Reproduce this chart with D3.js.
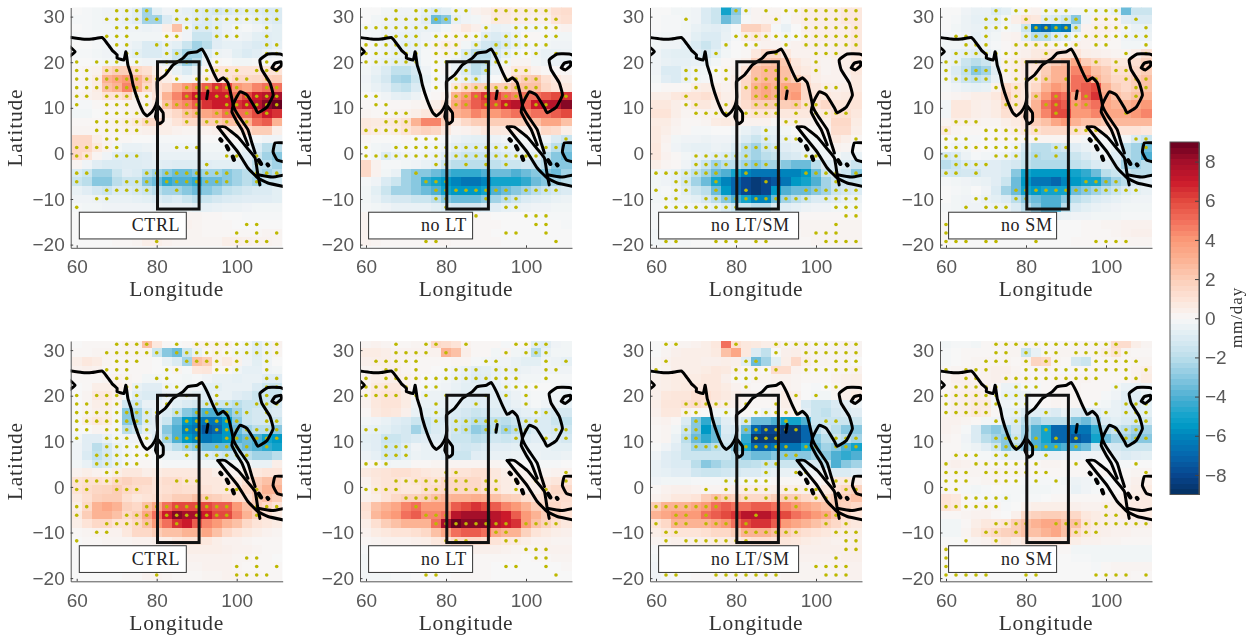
<!DOCTYPE html>
<html>
<head>
<meta charset="utf-8">
<script src="https://cdnjs.cloudflare.com/ajax/libs/d3/7.8.5/d3.min.js"></script>
<style>
  html, body { margin: 0; padding: 0; background: #fff; }
  svg { display: block; filter: blur(0.35px); }
</style>
</head>
<body>
<svg id="chart" width="1253" height="637"></svg>
<script>
// grid of the model output
const lons = d3.range(21).map((i) => 60 + i * 2.5)
const lats = d3.range(28).map((i) => 31.3 - i * 1.875)

const lonTicks = [60, 80, 100]
const latTicks = [30, 20, 10, 0, -10, -20]
const barTicks = [8, 6, 4, 2, 0, -2, -4, -6, -8]

const colorStops = [-9, -8, -7, -6, -5.5, -5, -4, -3, -2, -1, 0, 1, 2, 3, 4, 5, 6, 7, 8, 9]
const colorValues = ['#053061', '#08468f', '#0666ad', '#0084bc', '#0099c5', '#12a3cb', '#4fb0d3', '#88c8e0',
  '#bbdeeb', '#dbebf3', '#f7f7f7', '#fde4d8', '#fcceb8', '#fcb394', '#fb9a78', '#f2705c', '#e34a3f', '#cb1a2b', '#a50f2a', '#67001f']

// precipitation anomalies, one row per latitude, north to south
const ctrlTop = [
  [0,-.1,-.2,-.3,-.3,-.4,-.8,-2.5,-.7,-.3,-.4,-.6,-.8,-1,-1.2,-1,-.8,-.7,-.8,-1,-1],
  [-.1,-.1,-.2,-.3,-.3,-.5,-.8,-2.5,-2.5,-1,-.5,-.5,-.8,-1,-.7,-.5,-.5,-.4,-.6,-.8,-1],
  [0,-.1,-.2,-.2,-.3,-.3,-.3,-.4,-.3,.5,2.5,-.3,-1,-1,-.7,-.4,-.2,-.1,-.3,-.5,-.7],
  [-.1,-.1,-.1,-.2,-.2,-.2,-.2,-.2,-.2,.1,.2,-.3,-1.5,-1.5,-.8,-.4,-.3,-.4,-.7,-.8,-.7],
  [0,0,-.1,-.2,-.2,-.3,-.5,-1,-1,-.5,-.7,-1.5,-2.5,-2,-.8,-.6,-.6,-.8,-1,-.9,-.6],
  [-.1,-.1,-.2,-.3,-.3,-.4,-.7,-1,-1,-.6,-1.5,-2.5,-2.5,-1,-.4,-.3,-.7,-1,-.8,-.5,-.3],
  [0,0,-.1,-.2,-.2,-.1,-.2,-.3,-.3,-.6,-1.5,-2.7,-2,-.4,.1,0,-.2,-.2,-.1,-.1,0],
  [.1,.2,.3,1.5,2,2,1.5,1.2,.5,.2,-.5,-1,-.5,.2,1,1,1,1,1,1,1],
  [.1,.2,.6,3,3.5,4,3,2,1,.5,.2,-.2,.2,.6,1,1,1.5,1.5,1.6,1.8,2],
  [.1,.2,.6,2.5,3,4.5,3,1.5,1,1.5,3,4,4.5,5.5,6.5,6,4,3.5,4.5,5,5],
  [.2,.3,.5,1,1,1.5,.5,.3,1,3,4.5,6,7,7,7,7,5,6,7,7.5,8],
  [-.1,-.1,.1,.2,.2,.3,.3,.3,.6,2.5,4,4.5,5.5,6.5,7,7,6.5,7,7.5,8.5,9],
  [-.2,-.2,0,.1,.1,.2,.3,.4,.5,1,1.5,2.5,3,3.5,4,5,5,5,6,7,6.5],
  [.1,.1,.1,.2,.3,.5,.8,1.5,1.5,.5,1,1.5,1.5,2,2,2.5,2.5,3,5,5.5,3],
  [.2,.2,.2,.2,.2,.3,.3,.4,.5,.5,.3,.2,.2,.3,.4,.7,.7,1.5,2,2,.5],
  [1.5,1.5,.5,.2,.1,.1,0,0,-.1,-.1,-.1,-.1,-.1,0,0,.1,.1,0,-.1,-.3,-.3],
  [1.5,1.5,.8,.3,-.2,-.5,-.5,-.4,-.3,-.3,-.3,-.3,-.3,-.2,-.2,-.2,-.2,-.5,-1,-2,-2],
  [1.5,1,.2,-.3,-.8,-.9,-.9,-.8,-.5,-.5,-.5,-.5,-.5,-.4,-.4,-.4,-.5,-.8,-1.5,-2.5,-3],
  [.2,-.3,-.8,-1,-1,-.9,-.9,-.8,-.7,-.8,-.9,-.9,-.9,-.8,-.7,-.7,-.7,-1,-2,-2,-2.5],
  [-1,-1.5,-2.5,-2.5,-1.5,-.8,-1,-2,-2.5,-3,-3.5,-3.5,-3,-2.5,-2.5,-3,-2.5,-2,-2,-2.5,-2],
  [-1.5,-2,-3,-3,-2,-1.5,-1.5,-3,-3.5,-4.5,-4,-4,-4.5,-3.5,-3.5,-3,-2.5,-2,-2.5,-1.5,-1.5],
  [-.5,-.8,-1.2,-1.5,-1,-1,-1.2,-1.5,-2,-2.5,-2.5,-3,-3.5,-3,-2.5,-1.8,-1.5,-1.2,-1,-1,-.7],
  [-.3,-.3,-.4,-.5,-.5,-.5,-.6,-.7,-.9,-1.2,-1,-1.5,-2,-1.5,-1.2,-1,-.9,-.8,-.8,-.8,-.7],
  [-.1,-.2,-.2,-.3,-.3,-.3,-.3,-.3,-.4,-.5,-.5,-.5,-.7,-.6,-.5,-.4,-.4,-.3,-.2,-.2,-.2],
  [0,0,0,0,-.1,-.1,-.1,0,0,.1,.2,.2,.2,.1,.1,0,0,-.1,-.1,-.1,-.1],
  [0,0,0,0,0,.1,.1,.1,.2,.3,.3,.3,.2,.1,.1,.1,0,0,0,0,0],
  [0,0,0,0,0,.1,.1,.2,.3,.3,.2,.2,.2,.1,.1,.1,.1,.1,.1,.2,.2],
  [0,0,0,0,.1,.1,.2,.5,.5,.3,.2,.2,.2,.2,.2,.5,.5,.4,.3,.3,.2],
]
const noLtTop = [
  [0,0,-.2,-.3,-.3,-.3,-.6,-1,-.7,-.3,-.3,.3,.5,.8,.8,.6,.6,.5,.6,1.2,1.3],
  [0,-.2,-.3,-.4,-.4,-.4,-.8,-3.5,-3,-.6,-.3,-.2,.2,.7,.7,.5,.4,.3,.3,1,1.2],
  [-.2,-.2,-.4,-.4,-.4,-.5,-.5,-.5,-.2,.3,.8,.4,-.3,-.5,-.4,-.3,-.2,-.2,-.1,.2,.3],
  [-.1,-.2,-.4,-.5,-.5,-.5,-.3,-.2,.1,.2,.2,-.1,-.8,-1,-.8,-.4,.1,.1,-.1,-.2,-.2],
  [.1,-.1,-.3,-.5,-.7,-.5,-.2,.2,.5,.3,-.2,-.7,-1.3,-1.5,-1,-.5,-.2,-.1,-.2,-.3,-.3],
  [-.1,-.2,-.3,-.5,-.6,-.5,-.1,.1,.2,-.2,-1,-2,-2,-1.2,-.6,-.2,0,-.3,-.5,-.5,-.4],
  [-.1,-.3,-.5,-.7,-.8,-.6,-.1,0,-.1,-.5,-1,-2,-1.8,-.8,-.2,.2,.2,-.2,-.4,-.5,-.5],
  [-.2,-.5,-1,-1.8,-1.8,-1.2,-.3,0,.1,-.5,-1,-2,-1.5,-.5,.3,.8,.8,.3,.1,.1,.1],
  [-.3,-.7,-1.2,-2.3,-2.5,-1.5,-.5,-.1,-.1,-.3,-.5,-1,-.6,0,.5,1.5,2,2.2,1.2,.8,.5],
  [-.2,-.5,-.8,-1.5,-1.8,-1,-.3,0,0,.8,1.5,2,2,2,2,2.5,2.5,2.5,1.5,1,.8],
  [0,-.1,-.3,-.6,-.7,-.4,0,.1,.3,3,4,5.5,6.5,6,5,4.5,5,5,5.5,6,6.5],
  [.1,.1,.1,.1,.1,.2,.3,.5,1,3.5,4.5,5.5,6,6,7,7.5,5.5,7,7.5,7.5,8.5],
  [.2,.1,.1,.2,.3,.5,.8,1,1.5,3,3.5,4.5,4,4,4.5,5,4.5,5,5,5.5,6],
  [.8,.7,.7,.8,1.2,3,4.5,4.5,2,.8,1.5,2,2,2,2,2,2,2.5,3.5,3.5,2.5],
  [.8,.6,.4,.6,1,1.5,1.8,1.6,.8,.2,.3,.5,.8,.8,.7,.6,.4,.8,1.5,1.3,.5],
  [.1,0,0,0,.1,0,0,0,-.1,-.4,-.6,-.7,-.7,-.4,-.2,-.2,-.1,0,-.3,-1,-1.5],
  [0,-.2,-.3,-.2,-.1,-.1,-.2,-.2,-.4,-.8,-1,-1,-1,-.8,-.6,-.5,-.3,-.3,-1,-2,-3],
  [0,-.2,-1,-.5,-.3,-.2,-.3,-.4,-.8,-1.2,-1.5,-1.5,-1.5,-1.2,-1,-.8,-.6,-.7,-2,-3,-3.5],
  [1.5,.3,-.1,-.1,-.2,-.3,-.5,-.7,-1.5,-2,-2,-2,-2,-1.8,-1.5,-1.5,-1.2,-1.5,-2,-3,-3],
  [1.5,.3,-.2,-.5,-2.5,-3,-3,-3.5,-4,-4.5,-4.5,-4.5,-4,-3.5,-3.5,-4,-3.5,-3,-3,-3.5,-2.5],
  [-.1,-.3,-1,-1.5,-2.5,-3,-4.5,-5,-5.5,-6,-6.5,-6.5,-6,-5,-5,-5,-4.5,-3.5,-3,-2.5,-2],
  [-.2,-.7,-1.5,-2.5,-2.5,-3,-3.5,-4,-5,-5.5,-5.5,-5.5,-5,-4,-3.5,-3,-2.5,-2,-1.5,-1.2,-1],
  [-.2,-.5,-1,-1.2,-1.2,-1.5,-1.5,-2,-3,-3.5,-3.5,-3.5,-3,-2.5,-2,-1.5,-1,-.8,-.7,-.5,-.4],
  [-.1,-.2,-.3,-.5,-.5,-.5,-.5,-.7,-1,-1.2,-1.2,-1.2,-1,-.8,-.6,-.5,-.4,-.3,-.3,-.2,-.2],
  [.2,0,0,-.1,-.1,-.1,-.1,-.1,-.1,0,.1,.1,.1,0,0,0,0,-.1,-.1,-.1,-.1],
  [.3,.1,0,0,0,0,0,.1,.1,.1,.1,.1,.1,.1,0,0,0,0,0,0,-.1],
  [.3,.1,.1,0,0,0,.1,.1,.1,.1,.1,.1,.1,0,0,0,0,0,0,0,0],
  [.3,.2,.1,.1,.1,.1,.1,.2,.2,.1,.1,.1,.1,.1,0,0,0,0,0,0,0],
]
const noLtSmTop = [
  [0,0,-.2,-.2,-.3,-1,-1.5,-5,-3,-.3,.2,.2,.2,.1,.2,.5,.5,.5,.5,.8,.8],
  [0,-.1,-.1,-.2,-.3,-1,-1.5,-3.5,-2.5,-.1,.2,.3,.3,-.1,.3,.5,.5,.5,.5,.8,.8],
  [0,-.1,-.1,-.2,-.5,-.7,-.8,-.6,-.1,1.8,1.8,1.2,-.1,-.5,0,.4,.5,.5,.5,.5,.8],
  [-.1,-.2,-.2,-.3,-.7,-1,-1,-.5,-.1,.5,.8,.4,.1,-.2,0,.3,.5,.5,.5,.5,.8],
  [-.2,-.3,-.3,-.6,-1,-1.5,-1,-.3,0,.1,.2,.3,.3,.2,.3,.4,.4,.3,.4,.5,.8],
  [-.3,-.6,-.7,-.7,-.8,-1.2,-.7,-.2,0,.1,.8,1.5,1.5,.8,.3,.3,.3,.3,.4,.5,.8],
  [-.3,-.5,-.6,-.6,-.5,-.5,-.2,.1,.2,.5,1.8,2.2,2.5,2.2,.8,.5,.3,.2,.3,.5,.8],
  [-.3,-1,-1,-.5,-.3,-.2,0,.2,.3,1,2.5,2.8,2.8,2.5,1,.7,.5,.2,.3,.5,.8],
  [-.2,-.8,-1,-.5,-.2,-.1,.1,.2,.5,1.5,2.5,2.8,2.8,2.5,2,1,.5,.3,.3,.3,.7],
  [0,.1,.1,.1,.5,.6,.5,.3,.5,1.5,3,3.5,3,3.5,3.5,1.5,.8,.5,.4,.5,.7],
  [.5,.5,.8,1,1,1.2,1,.5,.5,1.5,3,3.5,3,3.5,4,1.5,1,.8,.6,.7,.9],
  [.8,.8,.5,.3,.8,.8,.5,.5,.8,1.3,2,2,2,2,2.2,1.2,1.2,1.5,1,1,1],
  [1,1,.5,.2,.2,.3,.3,.4,.5,.8,1,1,.8,.8,.8,.8,.7,.8,1.2,1.2,.8],
  [.6,.6,.3,.1,.1,.2,.6,.7,.6,.3,.3,.3,.1,.4,.5,.4,.3,.5,1.5,1.5,.6],
  [.7,.5,.2,.1,-.1,-.1,0,0,-.2,-.5,-.8,-.5,-.5,-.2,0,.1,.1,.3,1.3,1.3,.5],
  [.7,.3,-.2,-.3,-.3,-.4,-.3,-.3,-.5,-1,-1.5,-1,-.8,-.5,-.3,-.2,-.2,0,.8,.5,.2],
  [.8,.2,-.3,-.5,-.6,-.6,-.4,-.5,-1,-2,-2.5,-1.5,-1.2,-.8,-.6,-.4,-.3,-.2,.3,.2,0],
  [.8,.3,.1,-.2,-.4,-.6,-.8,-1,-1.5,-2,-2.5,-2,-1.7,-1.2,-1,-.6,-.4,-.3,-.2,-.5,-.5],
  [.5,.2,.1,-.3,-.8,-1.5,-2.5,-2,-2,-2.5,-3,-2.5,-2.5,-3,-3.5,-3.5,-2,-1,-.8,-1,-1.5],
  [-.2,-.3,-.5,-1,-1.8,-2.5,-3.5,-4,-5,-6,-6.5,-6.5,-6.5,-6,-6,-5.5,-3.5,-1.5,-1,-1.5,-3],
  [-.2,-.3,-.5,-1.2,-2.5,-3.5,-5,-6,-7,-8,-8.5,-8,-7.5,-6.5,-5.5,-5,-4,-2.5,-1.5,-1.5,-1.5],
  [-.2,-.1,-.3,-.8,-1.5,-2,-3.5,-5.5,-7,-8,-8.5,-8,-5.5,-4,-3.5,-3.5,-3,-2.5,-1.5,-1.2,-1],
  [-.2,-.2,-.4,-.5,-.7,-1.2,-2,-3,-4,-5,-6,-6,-3.5,-2.5,-2,-1.5,-1,-1,-.8,-.5,-.4],
  [-.1,-.1,-.2,-.2,-.3,-.4,-.6,-1,-1.5,-1.5,-2,-2,-1,-.8,-.6,-.4,-.3,-.3,-.2,-.2,-.2],
  [-.1,0,0,0,0,0,0,0,.1,.1,.1,.1,.1,.1,.1,.1,.1,.1,.1,.1,.1],
  [-.1,0,0,0,0,0,0,0,.1,.1,.1,.1,.1,.1,.2,.2,.2,.2,.2,.2,.2],
  [-.2,-.1,0,0,0,0,0,0,0,.1,.1,.1,.1,.1,.1,.2,.2,.2,.2,.2,.2],
  [-.2,-.2,-.1,-.1,0,0,0,0,0,0,.1,.1,.1,.1,.1,.1,.2,.2,.2,.2,.2],
]
const noSmTop = [
  [0,0,-.3,-.5,-.5,-1,-.7,-.2,.2,.3,-.2,-.3,-.3,-.2,-.2,-.2,-.2,-.5,-3.5,-1.5,-1.5],
  [0,-.1,-.4,-.6,-.6,-.6,-.2,.5,1,.8,-.8,-1,-1.5,-3,-.3,.3,.3,.2,-.8,-1,-1],
  [0,-.2,-.4,-.5,-.5,-.4,-.1,-.2,-1.5,-6.5,-7,-6,-6.5,-1.5,.3,.4,.4,.3,-.2,-.5,-.5],
  [-.1,-.1,-.3,-.6,-.4,-.2,.2,.3,-.8,-2,-2,-1,-.7,-.2,.3,.4,.3,.1,-.3,-.4,-.4],
  [-.2,-.2,-.3,-.4,-.3,-.1,.1,.3,.3,.5,.3,.2,.1,.4,.3,.2,.1,.1,-.2,-.2,-.1],
  [-.3,-.5,-.6,-.8,-.6,-.2,.1,.3,.4,.7,.8,1,1,1,.5,.4,.3,.2,.2,.5,1.2],
  [-.3,-.5,-1.5,-2,-1.5,-.4,.3,.5,.8,1,1.5,2,2.5,3.5,2,1.5,1.2,.8,.8,1.2,1.8],
  [-.3,-1,-1.8,-3,-2.5,-.8,.3,.5,.7,1,2,3,3,4.5,4,2.5,2,1.2,1.2,1.5,2],
  [-.2,-.8,-1.5,-1.8,-1.5,-.5,.3,.5,.7,1,2.2,3,3,5,5,3,2.2,1.5,1.5,2,2.5],
  [-.1,-.3,-.5,-.6,-.5,.3,1.5,1,.8,1.5,3,4,3.5,5,5.5,6,3,2,1.5,2,2.5],
  [.1,.2,.3,.5,.5,.8,2,1,.8,2.5,4,5.5,5,3.5,5.5,6.5,3.5,2.5,2,2.5,3],
  [-.2,.8,.8,.5,.4,.6,1.5,1,1,3,5,6,5.5,4,4.5,5,3.5,3,3,3.5,4],
  [-.2,.8,.8,.5,.4,.6,1.2,1,1.5,3,4.5,6,6,4,4,4.5,3.5,3.5,3.5,4,4.5],
  [.2,.5,.4,.3,.2,.2,.5,.7,1,2,2.5,3.5,4,3,2.5,2.5,2.2,2.8,2.8,2.8,2.8],
  [.7,.2,.1,.1,.1,.1,.3,.5,.8,1.2,1.5,1.5,1.5,1.2,1,1,.8,1,1,1,.8],
  [0,-.1,-.1,-.1,0,.1,.1,.1,.1,.2,.2,.2,.2,.1,-.1,-.1,0,-.2,-.2,-1,-1.5],
  [-.1,-.3,-.2,.1,0,-.1,-.1,-.3,-1.2,-2,-2,-1.5,-1.2,-.8,-.5,-.3,-.2,-.5,-2,-2.5,-3.5],
  [-1.2,-1,-.4,-.1,-.2,-.3,-.4,-.8,-1.5,-2.2,-2,-2,-2,-1.5,-1,-.6,-.3,-.8,-2,-2.5,-4],
  [-2,-1.5,-1,-.8,-.8,-.8,-1,-1.2,-1.8,-2.2,-2.2,-2.2,-2.2,-1.8,-1.5,-1,-.8,-1.2,-2.5,-2.5,-2],
  [-1.2,-1.3,-1.2,-1.2,-.8,-.8,-1,-3,-5,-5.5,-5.5,-5.5,-5.5,-5,-4.5,-3.5,-2,-1.5,-1.5,-2,-2],
  [-.1,-.2,-.3,-.4,-.5,-.8,-1.5,-3.5,-5.5,-6.5,-6.5,-7,-6,-5.5,-5,-5,-3.5,-2.5,-2,-1.2,-.8],
  [0,-.1,-.2,0,-.3,-1,-2.5,-3.5,-5,-5.5,-5,-5,-5,-3.5,-3,-2.5,-2,-1.5,-1,-.7,-.5],
  [0,-.2,-.3,-.2,-.5,-.7,-1,-2,-3,-3.5,-4,-4,-3,-2,-1.5,-1,-.8,-.6,-.4,-.3,-.3],
  [-.1,-.2,-.3,-.3,-.3,-.4,-.5,-1,-2,-3,-4,-4,-2,-1,-.7,-.5,-.4,-.3,-.2,-.2,-.2],
  [0,0,0,0,0,-.1,-.1,-.1,-.2,-.3,-.4,-.5,-.4,-.3,-.3,-.2,-.2,-.2,-.1,-.1,-.1],
  [.1,0,0,0,0,0,0,0,0,0,0,0,0,0,.1,.1,.2,.2,.3,.3,.3],
  [.1,0,0,0,0,0,0,0,0,0,0,0,0,0,.1,.1,.1,.2,.3,.4,.4],
  [.1,0,0,0,0,0,0,0,0,0,0,0,0,.1,.1,.1,.1,.1,.2,.2,.2],
]
const ctrlBottom = [
  [0,.1,.1,.1,.1,.3,.3,2.5,.8,.1,0,.1,.3,.3,.3,.3,0,-.2,-.8,-.3,.3],
  [.1,.1,.2,.2,.2,.2,.2,.2,-1.5,-3,-3.5,-1.5,-.5,.1,.3,.1,-.2,-.3,-.8,-.3,.2],
  [.5,.8,.6,.2,.1,.1,.1,.1,0,-.5,-1,-2.5,2.5,2,.3,.7,.3,-.3,-.7,-.3,0],
  [.3,.4,.3,.1,.1,.1,.1,.1,0,-.1,.2,-.1,.8,.9,.1,.1,-.3,-.6,-.6,-.3,-.2],
  [.1,.1,.1,.2,.3,.2,.1,-.2,-.2,-.1,-.1,-.2,-.1,-.3,-.5,-.5,-.6,-.5,-.5,-.8,-.8],
  [0,.1,.5,.5,.5,.3,-.5,-.8,-.8,-.3,-.2,-.3,-.3,-.7,-.7,-.5,-.5,-.5,-1,-1.5,-1.5],
  [0,.2,.8,.8,.5,-.2,-.8,-1,-1,-.5,-.5,-.5,-.7,-.8,-.5,-.5,-.8,-1,-1.5,-1.5,-1.5],
  [0,.2,.5,.5,.2,-1.3,-1.3,-.5,-.5,-.3,-.7,-1,-1.2,-1.5,-1.5,-1.5,-2,-1.5,-1.5,-1.5,-1.2],
  [0,.2,.4,.4,-.1,-3,-2.5,-1,-.6,-1,-1.7,-3,-3.5,-4,-4,-3.5,-2.5,-1.5,-1.2,-1.2,-1],
  [0,.5,.8,.6,-.1,-3,-2.5,-1,-.8,-1.5,-3.5,-5.5,-6,-6.5,-6.5,-5.5,-3,-1.5,-1.2,-1.2,-1.5],
  [0,0,.2,.2,-.1,-2,-1.5,-.7,-.8,-3,-4,-6,-6.5,-7.5,-7,-5.5,-3.5,-2.5,-2,-2,-3],
  [-.2,-.8,-.8,-.5,-.2,-.3,-.3,-.3,-1,-2.5,-4,-5.5,-6,-6.5,-6,-5.5,-4,-3.5,-4,-5,-5.5],
  [-.3,-.8,-2,-1.2,-.5,-.2,-.1,-.1,-.5,-1.2,-2,-2.5,-3,-3.5,-3.5,-3.5,-3,-3.5,-4,-4.5,-5],
  [-.3,-1,-1.8,-1.2,-.5,-.2,0,0,-.2,-.5,-.5,-.5,-.7,-1,-1.2,-1.5,-1.5,-2,-2.5,-2.5,-2],
  [-.2,-.5,-1.3,-1,-.5,-.1,.1,.1,0,-.1,-.1,-.1,-.1,-.2,-.2,-.3,-.2,-.3,-.5,-.5,.5],
  [.3,.5,.3,.2,.5,.8,.8,.5,.6,.8,.8,.8,.8,.8,.5,.3,.3,.5,.8,1,1],
  [1,1.2,1.2,1,1.5,1.8,1.5,1.5,1,1.3,1.3,1,1,.8,.8,.6,.7,1.2,2,2.5,2.5],
  [1,1.3,1.6,1.7,2,1.5,1.3,1.2,1,1.2,1.3,1.2,1.2,1,.8,.8,1,1.5,2.2,3,3],
  [.7,1.2,1.8,2,2,1.2,.8,1,1.2,1.5,2,2,2.5,2,1.8,1.5,1.2,1.2,2,2.5,2],
  [.5,1.5,3,3.5,3,1.8,1.5,2.5,3.5,5,6,6,6,6,5.5,5.5,4,2.5,2,1.5,1],
  [.7,2,3,3,2.5,1.5,2,3.5,5,7,8.5,8,8,7,6,6,4.5,3,2,1.2,.7],
  [.5,1,1.5,1.5,1,1,1.5,2.5,4,5,6.5,7,5.5,4.5,4,3,2.5,1.5,1,.8,.6],
  [.1,.2,.3,.3,.3,.8,1.5,1.5,2,2.5,2.5,3,3,3.5,2.5,1.5,1,.7,.5,.3,.2],
  [0,.1,.1,.2,.2,.2,.3,.3,.4,.5,.8,1,1,.8,.5,.3,.3,.2,.1,.1,.1],
  [0,0,.1,.1,.1,.1,.2,.2,.2,.3,.4,.5,.5,.5,.5,.4,.3,.3,.2,.1,.1],
  [0,0,0,0,0,.1,.1,.1,.1,.2,.2,.3,.3,.3,.3,.3,.2,.2,.1,.1,0],
  [0,0,0,0,0,.1,.1,.1,.1,.1,.2,.2,.2,.3,.3,.3,.2,.1,.1,.1,.1],
  [0,0,0,0,0,.1,.1,.3,.3,.2,.1,.1,.1,.2,.2,.3,.3,.2,.2,.1,.1],
]
const noLtBottom = [
  [.2,.3,.2,.1,.1,.2,.2,1.5,1.3,1,.3,.1,.1,.1,-.1,.1,.1,-.7,-.8,-.3,-.2],
  [.6,.6,.5,.3,.3,.3,.3,.3,3,2.5,.5,.1,.1,-.2,.2,-.2,-.3,-2,-.5,-.2,-.2],
  [.4,.5,.5,.3,.2,.1,.1,.1,.1,.2,.2,-.1,-.2,-.3,-.3,-.5,-.7,-.7,-.3,-.4,-.6],
  [.2,.3,.4,.4,.2,.1,.1,0,-.1,-.3,-.5,-.8,-.7,-.5,-.4,-.5,-.4,-.3,-.3,-.3,-.3],
  [.3,.5,.5,.5,.3,.2,0,-.1,-.2,-.4,-.6,-.9,-.8,-.5,-.3,-.3,-.2,-.2,-.1,-.1,-.1],
  [.3,.7,.8,.8,.4,.1,-.1,-.2,-.3,-.5,-.7,-.7,-.7,-.6,-.4,-.2,-.1,0,0,-.1,-.3],
  [.3,.8,1,1,.6,.1,-.4,-.4,-.5,-.6,-.8,-.8,-.8,-.8,-.7,-.4,-.2,-.1,-.1,-.3,-.5],
  [.3,.8,1,1,.6,-.3,-.5,-.5,-.5,-.6,-.8,-.9,-.8,-.7,-.8,-.5,-.3,-.1,-.3,-.5,-.6],
  [.1,.7,.9,.8,.4,-.5,-.7,-.6,-.7,-1,-1.2,-1.5,-1.3,-1,-1,-.8,-.6,-.5,-1,-1.2,-1.2],
  [-.2,-.3,-.5,-.8,-1,-1.5,-1.5,-1,-1,-1.2,-1.5,-2,-2,-1.8,-2,-1.5,-1.2,-1,-1,-1.5,-1.8],
  [-.5,-.6,-.7,-1,-1.2,-2.5,-1.5,-1,-.9,-1.3,-1.8,-2.8,-2.5,-1.8,-2.5,-2,-1.5,-1,-1,-1.2,-1.5],
  [-.7,-.8,-1.5,-1.5,-1.2,-1,-.8,-.8,-1,-1.5,-1.5,-2,-1.8,-1.3,-1.5,-1.3,-1,-.8,-.8,-1,-1.2],
  [-.6,-.8,-1.3,-1.3,-.8,-.3,-.5,-.5,-.7,-1.2,-1.3,-1.2,-1,-.8,-.8,-.7,-.5,-.5,-.5,-.7,-.7],
  [-.4,-.6,-1.2,-1.2,-.7,-.4,-.5,-.5,-.8,-1.5,-1.5,-.8,-.7,-.5,-.5,-.4,-.4,-.4,-.5,-.5,-.4],
  [.1,.1,-.3,-.2,-.2,.1,.1,.2,.2,.2,.2,.2,.2,.2,.1,.1,0,-.1,-.1,-.1,0],
  [.7,.9,1,1.2,1.2,1,.8,.7,.7,1,1,1.2,1.2,.8,.5,.4,.3,.2,.2,.3,.3],
  [.3,.8,1,1,.8,1,1.2,1,1.5,1.5,1.5,1.5,1.2,.8,.6,.5,.4,.5,.7,.9,1],
  [.2,.7,1,1,.8,.8,1.2,1.3,1.5,1.5,1.5,1.5,1.2,1,.6,.5,.4,.5,1.2,1.5,1.5],
  [.3,.5,1,1.5,1.8,1.8,2,2.5,2.8,3,3,3.2,3,2.5,2,1.8,1.2,1,1.2,1.3,1.3],
  [1.2,2.5,3,3.5,4.5,5,4,4,4,5.5,6,6.5,6,5.5,4.5,4,3,2,1.5,1.5,1.2],
  [1,2.8,3.5,4,5,5.5,4.5,4.5,5,7.5,8,8,8,7.5,7,5.5,4,3,2,1.8,1.2],
  [.5,1.2,2,2.5,3,3,3,5,8,9,8.5,8.5,8.5,7.5,7,6.5,4,2.5,1.8,1.2,.8],
  [.3,.6,.8,1,1,1.2,1.5,2.5,3.5,5,5.5,5.5,5,3.5,3,3,1.8,1,.7,.5,.4],
  [.1,.2,.3,.3,.3,.4,.5,.8,1,1.5,1.5,1.5,1.3,1,.8,.7,.5,.3,.3,.2,.2],
  [-.1,-.1,0,0,.1,.1,.1,.2,.4,.6,.4,.4,.4,.4,.3,.2,.2,.2,.3,.3,.3],
  [-.2,-.2,-.1,0,0,0,.1,.1,.1,.2,.2,.1,.1,.1,.1,.1,0,.1,.1,.2,.2],
  [-.2,-.2,-.1,-.1,0,0,0,0,.1,.1,.1,.1,.1,0,0,0,0,0,0,0,.1],
  [-.2,-.2,-.2,-.1,-.1,0,0,0,0,.1,.1,.1,.1,0,0,0,0,0,0,0,0],
]
const noLtSmBottom = [
  [0,.1,.2,.2,.3,.5,.8,5,1.2,.8,.7,.5,.5,.2,.3,.3,.1,.1,.2,.3,.2],
  [0,.2,.4,.5,.5,.5,.7,2.5,3.5,.8,-1,-1.8,0,.4,.5,.3,.2,.2,.2,.2,.2],
  [.1,.3,.5,.5,.5,.4,.4,.5,.4,-.8,-3.5,-2.5,-.7,.5,1.5,.5,.2,.2,.2,.2,0],
  [.1,.2,.5,.5,.5,.6,.8,.7,.3,.1,.2,.1,1.3,1.3,.3,.2,.1,.1,.2,.2,.3],
  [.4,.5,.6,.6,.6,.8,.8,.4,.1,-.1,.2,.2,.3,.3,.2,.1,.1,.1,.3,.4,.5],
  [.4,.5,.6,.7,.8,.8,.8,.6,.3,.2,.1,.1,.3,.3,.2,0,-.1,0,.2,.4,.5],
  [.4,.8,.9,.9,1.2,1.2,.9,.7,.5,.3,.3,.2,.3,.6,.4,0,-.2,-.2,.1,.4,.6],
  [.5,.9,.9,1.2,1.3,1,.7,.5,.4,.2,.1,.1,.2,.5,.2,-1,-1.5,-1.5,-1,-.8,-.4],
  [.4,.8,.8,.3,.1,0,-.2,-.2,-.1,.1,0,-.3,.1,.3,.2,-.8,-1.5,-1.8,-1.2,-1,-.8],
  [.2,.3,.1,-1,-3,-4.5,-2,-.8,-.6,-1.2,-3.5,-3.5,-4,-5,-5,-4,-1.5,-1.5,-1.5,-1.5,-1.5],
  [.1,.2,-.2,-1.5,-3,-5.5,-3.5,-1,-1.2,-3.5,-7,-8,-8,-8.5,-8.5,-7,-2,-1.2,-2,-3,-3],
  [.1,.2,-.5,-2,-3.5,-4.5,-3.5,-1.2,-1.5,-4.5,-8.5,-8.5,-8.5,-8.5,-8.5,-7,-3,-2,-1.5,-2,-2.5],
  [0,-.3,-.8,-1.5,-2.5,-2.5,-2,-1.5,-3,-5,-7,-7,-6.5,-6.5,-6.5,-5,-3.5,-2.5,-3,-4,-5],
  [-.3,-.8,-1,-1.5,-1.5,-1.5,-1.5,-1.5,-2,-3,-3.5,-3.5,-3,-3,-3,-3,-2.5,-3,-4,-4.5,-4],
  [-.5,-.8,-1,-1,-2,-3,-2.5,-2,-2,-2,-1.8,-1.5,-1.5,-1.5,-1.5,-1.2,-1.2,-2,-4,-3,-2.5],
  [-.5,-.6,-.8,-.8,-1.3,-1.5,-1.5,-1.3,-1.2,-1,-1,-.7,-.5,-.5,-.4,-.3,-.3,-.4,-1,-1,-.8],
  [-.3,-.2,-.2,-.2,-.1,-.1,-.1,-.2,-.2,-.1,-.1,0,.1,.1,.1,.1,.1,.3,.7,.7,.5],
  [.1,.3,.4,.4,.3,.2,.2,.3,.5,.5,.5,.4,.5,.5,.5,.4,.3,.8,1.2,1.5,1.8],
  [.3,.5,.8,.8,1,2,2.5,2,1.8,1.5,1.5,1.5,2,2,2,1.5,1.2,1.5,2,2,2.5],
  [2,3,3,3,3.5,4,5,5.5,5,5,5.5,5.5,5,4.5,4,3.5,3,2.5,2,1.8,1.5],
  [3,3.5,4,4,4,5,5.5,6,6.5,7.5,7.5,7.5,6.5,6,5,4.5,4,3.5,2.5,1.5,1],
  [1,1.5,3,3,3,3,3.5,4,5,6,6.5,6.5,5.5,4,3.5,3,2.5,2,1.5,1,.8],
  [.5,.8,1,1,1,1.2,1.5,1.5,2,3,3,3,2.5,2,1.5,1.2,1,.8,.6,.5,.5],
  [.2,.3,.4,.4,.4,.5,.6,.6,.7,1,1.2,1.2,1,.9,.8,.6,.5,.4,.3,.3,.4],
  [-.1,.1,.1,.1,.2,.2,.2,.3,.4,.5,.6,.6,.5,.5,.4,.4,.4,.4,.4,.4,.5],
  [-.2,.1,.1,.1,.1,.1,.1,.1,.2,.2,.2,.3,.3,.3,.3,.3,.3,.3,.3,.4,.4],
  [-.3,0,0,.1,.1,.1,.1,.1,.1,.1,.1,.2,.2,.2,.2,.2,.2,.2,.3,.3,.3],
  [-.3,-.1,0,0,.1,.1,.1,.1,.1,.1,.1,.1,.1,.2,.2,.2,.2,.2,.2,.3,.3],
]
const noSmBottom = [
  [-.2,-.1,-.1,-.2,.1,.2,.2,.2,.2,.2,.1,.1,.1,.2,.2,.2,.2,1.3,1.3,.5,.2],
  [-.1,0,.1,.1,.1,.1,.2,.2,-1.5,-.5,.1,.2,.2,.2,.2,.2,.5,1,.2,.1,.1],
  [-.1,0,.1,.2,.2,.2,.2,.1,.3,1.7,1.5,.2,.1,-1.2,-1.5,.1,.1,.2,.1,.2,.2],
  [.1,.2,.2,.2,.3,.4,.4,.2,.1,.1,.2,.1,-.1,.1,.1,.1,.1,.1,.1,.3,.5],
  [.2,.4,.4,.3,.3,.4,.3,.2,.2,.1,.1,.2,.2,.2,.2,.1,.1,.1,.1,.3,.6],
  [.2,.3,.4,.4,.4,.1,-.4,-.4,-.1,-.1,.1,.2,.2,.2,.1,.1,.1,-.2,-.5,-.5,-.3],
  [.2,.4,.5,.6,.5,-.1,-.5,-.5,-.4,-.1,.1,.2,.2,.2,.1,.1,-.1,-.3,-.8,-.8,-.5],
  [.2,.4,.5,.7,.7,-.1,-.3,-.2,-.2,-.1,.1,.2,.1,.2,.1,-.1,-.2,-.5,-.8,-1,-.7],
  [.2,.4,.5,.8,.6,.1,-.5,-.5,-1,-.8,-.8,-1,-.5,-1,-1.2,-.8,-.5,-.5,-.8,-.8,-.7],
  [.3,.3,.2,.1,-.2,-.3,-.8,-1,-2,-2.5,-2,-2,-2,-3,-3.5,-2.5,-1,-.7,-1,-1.2,-1.2],
  [.3,.2,-.1,-1,-2.5,-3,-2.5,-1.2,-2.5,-4,-5,-7,-7,-6.5,-6.5,-4.5,-2,-1.5,-2,-2.5,-2.5],
  [.2,.1,-.3,-1,-2,-2.5,-3,-1.5,-2.5,-4,-5,-7,-7,-7.5,-7,-5,-3.5,-2.5,-2.5,-3,-3],
  [.1,.1,-.2,-.4,-.8,-1.5,-3,-2,-3,-4,-4.5,-4.5,-4,-4,-3.5,-1.5,-1,-1.2,-1.5,-1.5,-1.5],
  [.1,.2,.1,-.1,-.1,-.3,-.5,-.5,-.5,-.5,-.5,-.5,-.4,-.4,-.3,-.3,-.3,-.8,-1,-.8,-.7],
  [.3,.4,.3,.2,.2,.1,.1,.1,.1,.1,.2,.2,.1,.1,.1,.1,0,-.1,-.1,0,0],
  [.2,.2,.2,.2,.2,.3,.2,.2,.2,.1,.1,.1,.1,.1,.1,.1,.2,.1,.1,.2,.2],
  [.1,.1,.1,.1,.2,.2,.1,0,-.1,-.1,-.1,-.1,-.2,-.4,-.3,-.2,-.1,0,.2,.4,.5],
  [.1,.1,-.1,-.2,-.1,0,-.1,-.1,-.2,-.2,-.2,-.1,-.1,-.5,-.3,-.1,0,.1,.3,.5,.7],
  [1,.8,.1,-.1,-.1,-.1,-.2,-.1,-.1,-.1,0,.1,.1,.1,.1,.1,.2,.3,.5,.6,.7],
  [1,.8,.1,.2,.3,.2,-.1,0,.3,.5,.5,.5,.5,.4,.3,.3,.4,.5,.6,.7,.7],
  [.1,.1,.2,.3,.3,.1,0,.4,1.5,1.8,2,2,1.8,1.5,.8,.6,.5,.5,.6,.7,.7],
  [-.2,-.2,.1,.5,.8,.8,1,2,2.5,3,3.5,3.5,2.5,2.5,1,.6,.5,.4,.4,.4,.4],
  [-.2,-.2,.2,.7,1.2,1.5,1.8,2,2.5,2.5,3,3.5,2.5,1.5,.8,.5,.4,.3,.3,.2,.2],
  [0,0,.1,.2,.3,.6,.8,.5,.8,1,1,1,.8,.5,.3,.3,.2,.2,.1,.1,.1],
  [.1,.1,.1,.1,.1,.1,.2,.2,.3,.3,.2,.1,.1,-.2,-.2,-.2,-.2,-.2,-.2,-.2,-.2],
  [0,0,0,0,0,0,0,0,0,0,0,0,0,-.1,-.1,-.2,-.2,-.2,-.2,-.2,-.2],
  [0,0,0,0,0,0,0,0,-.1,0,0,0,0,0,0,-.1,.1,.2,.2,.2,.2],
  [0,0,0,0,0,0,0,0,-.1,0,0,0,0,0,0,0,.1,.2,.2,.1,.1],
]

// significance stippling, # marks a dot
const dotsCtrl = [
  '....####..#.#########', '...######.###########', '....###....####.#..#.', '...###...##...###..#.',
  '....##..##.........##', '.....##..##...#....##', '#.###.#..###..#....#.', '##.##.#..#...####.###',
  '#########.#.##.###.#.', '########...######..##', '##.#####...##.#######', '#..###.#.####..######',
  '...####....##.####.#.', '..######...#.#####...', '..#####..............', '...##................',
  '#####.....###........', '##..###........##.#..', '.............#....#..', '##.....#########..###',
  '#....###.#######..#..', '...#####..#..........', '..##.................', '#....................',
  '.....................', '.................##..', '................#.#.#', '........#.......####.',
]
const dotsNoLtTop = [
  '...#.###.##..######..', '..########...#.#####.', '#######.....#..#####.', '..####.######.###.##.',
  '##########.#.######..', '######.#####.#####.#.', '######.##...###......', '.......#..#.#..##....',
  '.......#.###..####...', '.......#.#########...', '##.......####.###...#', '.##......##.###..##..',
  '..###................', '..###................', '#####................', '.....###............#',
  '#..############...##.', '##################...', '.......##.#.#.#......', '.....#...............',
  '......###............', '.......########.####.', '.......##...#.##.....', '........#.....##.....',
  '...........#....###..', '.................##..', '..............##..#..', '......##...........#.',
]
const dotsNoLtBottom = [
  '...#..##..#....####..', '...####.#.....#.###..', '.#####......##....#.#', '..##.#..####.###..##.',
  '#.##############..#..', '###.#.##......####...', '####.##.#...#.#.#....', '.......#...#....#....',
  '.......#.........##..', '.......#.#####..##...', '##.......##.#####..##', '..#............#..#.#',
  '..###................', '..###................', '###..................', '........##..........#',
  '...########.##.#.#..#', '####..########.#..#..', '....####.............', '.....#...............',
  '......###............', '.......########.####.', '.............##......', '........###...##.....',
  '................###..', '.................##..', '..............##..#..', '......##...........#.',
]
const dotsNoLtSmTop = [
  '........##.#.########', '...#........#..######', '...............######', '........#############',
  '.......#.##..#.######', '......#.....#...###..', '................#....', '...##.##...##...#....',
  '...##..#..#####......', '....#....#####...##..', '...#......###........', '...##..#..###.###....',
  '....####.####.#.####.', '.............##......', '...........#.........', '...........#.##.....#',
  '.........####........', '....######.....##....', '....####.###.........', '#######..#.....####.#',
  '..##..#....#......#..', '#.##..#..#.....######', '.##..###########.####', '.########.........###',
  '...................##', '..................#..', '................###..', '.##...###.##.....####',
]
const dotsNoLtSmBottom = [
  '.##.....#...#########', '............#..######', '.#.......##....##.###', '#.......#####..######',
  '........###..........', '.........#.......##..', '..............#.#....', '...#####.#..#........',
  '...##..#..#####......', '....#....#...#...##..', '...##....######......', '...##.....###.....###',
  '....###..#####.##.###', '.............##......', '...........##........', '...........#..##.....',
  '.......#####......##.', '.....#.#.###.####..##', '......##.#.#.##.##...', '#######.......#......',
  '..##.#....#......##..', '#.##.###.#.......#.#.', '.##......######...###', '.#.#######.........##',
  '...................##', '..................#..', '................####.', '.##...#######....###.',
]
const dotsNoSmTop = [
  '.....#.##.###.####...', '....###.#.####.###.#.', '....###.######.####.#', '.##.#...#############',
  '..###..#######.##...#', '.#######..#.......#.#', '##....####.....#.#...', '#.###.##.........##..',
  '#####..####.#.##..###', '.....#.#...........##', '.......#.#.#..#....#.', '......##..##.##......',
  '...........#......#..', '.###.................', '#...######...###.....', '###.######.....#...##',
  '########...##.......#', '##...###.#.#.........', '.####................', '##.#.................',
  '..............####...', '.......#############.', '...##..##............', '..#.###..............',
  '.....................', '#....................', '#....................', '###.##...#.....####..',
]
const dotsNoSmBottom = [
  '.....#############...', '.....##.#.##.######..', '....###.#.##...#####.', '#.###...###########.#',
  '..##..##########..##.', '.#####.###.......#...', '#########............', '######.##......#..###',
  '#####..#..#.....#.###', '.....#.#...........##', '..........#......###.', '.....###.#.#.#....###',
  '.....###.###.#.......', '.###.##...#..........', '#..#######...#.....#.', '###.#######.........#',
  '###..###.#.#.........', '##...................', '..#####..............', '######..........#....',
  '................##...', '.....####..##########', '....##.#.....###.....', '..#..#...............',
  '#....................', '#....................', '#....................', '#####...##.....####.#',
]

// coastlines as lon, lat
const coastMain = [[58,25.5],[61.3,25.1],[63.8,25.1],[66.3,25.4],[67.3,24.5],[68.8,22.7],[70.1,21.6],[70.1,20.9],[71.8,20.5],[72.3,22.3],[72.8,19.4],[73.6,17.2],[74.1,15],[75.3,11.7],[76.6,9.1],[77.6,8.2],[78.8,9.1],[79.8,10.6],[80.2,12.4],[80.1,15.7],[82.1,17.2],[84.1,19.4],[86.6,20.9],[87.8,22],[90.1,22.3],[91.3,22.9],[92.6,20.9],[94.1,17.9],[95.3,15.9],[96.6,16.6],[97.8,15.5],[98.6,12.8],[99.1,10.6],[98.8,9.1],[100.1,6.9],[101.3,5.2],[102.8,1.9]]
const coastGulf = [[104.6,.1],[103.8,2.3],[102.8,5.2],[100.8,7.8],[99.6,9.5],[99.1,10.6],[99.6,11.7],[100.8,13.5],[102.6,12.8],[104.6,10],[105.3,8.9],[107.6,10.2],[109.1,12.8],[108.3,15.5],[106.3,18.3],[105.8,20.5],[107.8,21.8],[110.8,21.8],[112,21.4]]
const coastSumatraNorth = [[95.3,5.8],[97.1,5.8],[100.3,3.6],[102.6,1.2],[104.6,-1],[105.3,-4.7],[105.8,-6.9]]
const coastSumatraSouth = [[95.3,5.8],[97.8,3],[100.3,.3],[102.8,-3.2],[105.3,-5.4],[107.8,-6.5],[112,-7.3]]
const coastJava = [[105.3,-4.7],[108.8,-5.2],[112,-4.7]]
const coastBorneo = [[112,2.3],[109.6,2.3],[109.1,.3],[110.1,-1.4],[112,-1.9]]
const coastHainan = [[108.8,18.8],[109.6,19.8],[111.1,20.1],[111.1,19.2],[109.8,18.3],[108.8,18.8]]
const coastArabia = [[58,23.6],[59.6,22.3],[58,21.2]]
const coastLanka = [[80.1,10],[79.7,8],[80.6,6.5],[81.6,7.1],[81.6,8.9],[80.3,10.4]]
const coastAndaman = [[92.8,13.7],[92.5,12]]
const coastlines = [coastMain, coastGulf, coastSumatraNorth, coastSumatraSouth, coastJava, coastBorneo, coastHainan,
  coastArabia, coastLanka, coastAndaman]

const islandA = [[95.9,3.1],[96.2,2.8]]
const islandB = [[97.5,1.6],[97.9,.9]]
const islandC = [[99,-.7],[99.3,-1.4]]
const islandD = [[105.5,-1.5],[106.1,-2.3]]
const islandE = [[107.7,-2.4],[107.9,-2.6]]
const islands = [islandA, islandB, islandC, islandD, islandE]

const boxLons = [80.2, 90.6]
const boxLats = [20.1, -12.2]

const panelNames = ['CTRL', 'no LT', 'no LT/SM', 'no SM']
const topPanels = [ctrlTop, noLtTop, noLtSmTop, noSmTop]
const bottomPanels = [ctrlBottom, noLtBottom, noLtSmBottom, noSmBottom]
const topDots = [dotsCtrl, dotsNoLtTop, dotsNoLtSmTop, dotsNoSmTop]
const bottomDots = [dotsCtrl, dotsNoLtBottom, dotsNoLtSmBottom, dotsNoSmBottom]
const labelWidths = [107, 104, 140, 108]

const svg = d3.select('#chart')
const panelLefts = [70.7, 360, 650, 940]
const panelTops = [7.5, 341]
const width = 212
const height = 240.3
const labelFont = '"Liberation Serif", serif'
const tickFont = '"Liberation Sans", Arial, sans-serif'

const color = d3.scaleLinear().domain(colorStops).range(colorValues).clamp(true)

const drawPanel = (i, left, top, values, dots) => {
  const x = d3.scaleLinear().domain([58.5, 111.5]).range([0, width])
  const y = d3.scaleLinear().domain([-20.7, 32.0]).range([height, 0])
  const g = svg.append('g').attr('transform', 'translate(' + left + ',' + top + ')')

  const clipId = 'clip' + Math.round(left) + Math.round(top)
  g.append('clipPath').attr('id', clipId).append('rect').attr('width', width).attr('height', height)

  const plot = g.append('g').attr('clip-path', 'url(#' + clipId + ')')
  plot.append('rect').attr('width', width).attr('height', height).attr('fill', '#f7f7f7')

  values.forEach((row, r) => {
    plot.append('g').attr('shape-rendering', 'crispEdges')
      .selectAll('rect')
      .data(row)
      .join('rect')
      .attr('x', (d, c) => x(lons[c] - 1.25))
      .attr('y', y(lats[r] + 0.9375))
      .attr('width', x(2.5) - x(0) + 0.5)
      .attr('height', y(0) - y(1.875) + 0.5)
      .attr('fill', (d) => color(d))
  })

  dots.forEach((line, r) => {
    plot.append('g')
      .selectAll('circle')
      .data(d3.range(21).filter((c) => line[c] === '#'))
      .join('circle')
      .attr('cx', (c) => x(lons[c]))
      .attr('cy', y(lats[r]))
      .attr('r', 1.8)
      .attr('fill', '#bdb800')
  })

  const coast = d3.line().x((d) => x(d[0])).y((d) => y(d[1])).curve(d3.curveCardinal.tension(0.6))
  plot.append('g')
    .selectAll('path')
    .data(coastlines)
    .join('path')
    .attr('d', coast)
    .attr('fill', 'none')
    .attr('stroke', '#000')
    .attr('stroke-width', 3)
    .attr('stroke-linecap', 'round')
    .attr('stroke-linejoin', 'round')
  plot.append('g')
    .selectAll('path')
    .data(islands)
    .join('path')
    .attr('d', coast)
    .attr('fill', 'none')
    .attr('stroke', '#000')
    .attr('stroke-width', 4.2)
    .attr('stroke-linecap', 'round')

  // monsoon box
  g.append('rect')
    .attr('x', x(boxLons[0]))
    .attr('y', y(boxLats[0]))
    .attr('width', x(boxLons[1]) - x(boxLons[0]))
    .attr('height', y(boxLats[1]) - y(boxLats[0]))
    .attr('fill', 'none')
    .attr('stroke', '#111')
    .attr('stroke-width', 3)

  // experiment label
  g.append('rect')
    .attr('x', 8.6)
    .attr('y', y(-12.9))
    .attr('width', labelWidths[i])
    .attr('height', 26.7)
    .attr('fill', '#fff')
    .attr('stroke', '#333')
    .attr('stroke-width', 1)
  g.append('text')
    .attr('x', 61)
    .attr('y', y(-12.9) + 19)
    .attr('font-family', labelFont)
    .attr('font-size', 18)
    .attr('letter-spacing', 0.6)
    .attr('fill', '#222')
    .text(panelNames[i])

  const xAxis = g.append('g').attr('transform', 'translate(0,' + height + ')')
    .call(d3.axisBottom(x).tickValues(lonTicks).tickSizeInner(-2.5).tickSizeOuter(0).tickPadding(12))
  const yAxis = g.append('g')
    .call(d3.axisLeft(y).tickValues(latTicks).tickSizeInner(-2.5).tickSizeOuter(0).tickPadding(6))
  ;[xAxis, yAxis].forEach((a) => {
    a.selectAll('text').attr('font-family', tickFont).attr('font-size', 19).attr('fill', '#595959')
    a.selectAll('line').attr('stroke', '#444')
    a.select('.domain').attr('stroke', '#555')
  })

  g.append('text')
    .attr('x', width / 2)
    .attr('y', height + 48.5)
    .attr('text-anchor', 'middle')
    .attr('font-family', labelFont)
    .attr('font-size', 21.5)
    .attr('letter-spacing', 0.7)
    .attr('fill', '#333')
    .text('Longitude')
  g.append('text')
    .attr('transform', 'translate(-48.7,' + height / 2 + ') rotate(-90)')
    .attr('text-anchor', 'middle')
    .attr('font-family', labelFont)
    .attr('font-size', 21.5)
    .attr('letter-spacing', 0.8)
    .attr('fill', '#333')
    .text('Latitude')
}

topPanels.forEach((values, i) => drawPanel(i, panelLefts[i], panelTops[0], values, topDots[i]))
bottomPanels.forEach((values, i) => drawPanel(i, panelLefts[i], panelTops[1], values, bottomDots[i]))

// colorbar
const barLeft = 1170
const barWidth = 29
const barY = d3.scaleLinear().domain([-9, 9]).range([494.5, 142])
const steps = d3.range(64).map((k) => -9 + (k * 18) / 64)
const bar = svg.append('g')
bar.append('g').attr('shape-rendering', 'crispEdges')
  .selectAll('rect')
  .data(steps)
  .join('rect')
  .attr('x', barLeft)
  .attr('y', (d) => barY(d + 18 / 64))
  .attr('width', barWidth)
  .attr('height', barY(0) - barY(18 / 64) + 0.5)
  .attr('fill', (d) => color(d + 9 / 64))
bar.append('rect')
  .attr('x', barLeft)
  .attr('y', barY(9))
  .attr('width', barWidth)
  .attr('height', barY(-9) - barY(9))
  .attr('fill', 'none')
  .attr('stroke', '#555')
  .attr('stroke-width', 1)
const barAxis = bar.append('g').attr('transform', 'translate(' + (barLeft + barWidth) + ',0)')
  .call(d3.axisRight(barY).tickValues(barTicks).tickSizeInner(-4).tickSizeOuter(0).tickPadding(6))
barAxis.selectAll('text').attr('font-family', tickFont).attr('font-size', 19).attr('fill', '#595959')
barAxis.selectAll('line').attr('stroke', '#444')
barAxis.select('.domain').attr('stroke', '#555')
bar.append('text')
  .attr('transform', 'translate(1241.5,317.5) rotate(-90)')
  .attr('text-anchor', 'middle')
  .attr('font-family', labelFont)
  .attr('font-size', 17)
  .attr('letter-spacing', 0.9)
  .attr('fill', '#333')
  .text('mm/day')
</script>
</body>
</html>
